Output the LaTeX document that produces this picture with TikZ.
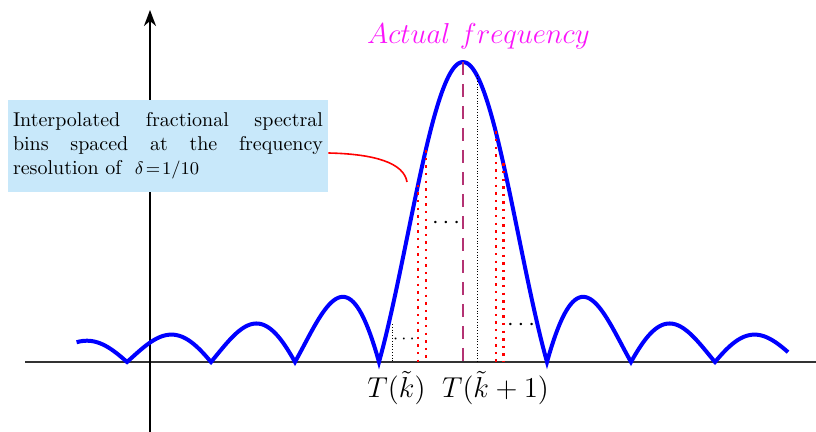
\documentclass[tikz,border=0pt]{standalone}
\usetikzlibrary{arrows.meta}
\definecolor{lobeblue}{RGB}{0,0,255}
\definecolor{peakpurple}{RGB}{180,50,115}
\definecolor{boxblue}{RGB}{200,232,250}
\definecolor{axisgray}{RGB}{50,50,50}
\definecolor{freqmagenta}{RGB}{250,20,250}
\begin{document}
\begin{tikzpicture}[x=0.5pt,y=-0.5pt,
  declare function={S(\x)=abs(sin(180*\x)/(pi*\x));},
  curve/.style={draw=lobeblue,line width=2pt},
  haxis/.style={draw=axisgray,line width=0.65pt},
  vaxis/.style={draw=black,line width=1pt,-{Stealth[length=8pt,width=6pt,inset=2.5pt]}},
  peakline/.style={draw=peakpurple,line width=1.3pt,dash pattern=on 6.5pt off 4.5pt},
  binline/.style={draw=red,line width=1.2pt,dash pattern=on 1.2pt off 2.6pt},
  thindot/.style={draw=black,line width=0.4pt,densely dotted},
  notebox/.style={fill=boxblue,text width=155pt,align=justify,inner xsep=2.5pt,inner ysep=6.3pt,font=\normalsize},
  lbl/.style={anchor=base,inner sep=0pt,font=\Large},
  dotsnode/.style={anchor=base,inner sep=0pt},
  callout/.style={draw=red,line width=0.8pt}
]
\useasboundingbox (0,0) rectangle (816,432);
% axes
\coordinate (hl) at (25,362);
\coordinate (hr) at (816,362);
\coordinate (vb) at (150,432);
\coordinate (vt) at (150,10);
\draw[haxis] (hl) -- (hr);
\draw[vaxis] (vb) -- (vt);
% spectrum
\draw[curve] plot[domain=-4.6:-4,samples=25] ({463+84*\x},{362-300*S(\x)})
  -- plot[domain=-4:-3,samples=40] ({463+84*\x},{362-300*S(\x)})
  -- plot[domain=-3:-2,samples=40] ({463+84*\x},{362-300*S(\x)})
  -- plot[domain=-2:-1,samples=40] ({463+84*\x},{362-300*S(\x)})
  -- plot[domain=-1:1,samples=100] ({463+84*\x},{362-300*S(\x)})
  -- plot[domain=1:2,samples=40] ({463+84*\x},{362-300*S(\x)})
  -- plot[domain=2:3,samples=40] ({463+84*\x},{362-300*S(\x)})
  -- plot[domain=3:3.87,samples=35] ({463+84*\x},{362-300*S(\x)});
% peak line
\coordinate (pk) at (463,62);
\coordinate (pb) at (463,362);
\draw[peakline] (pk) -- (pb);
% thin dotted
\coordinate (da) at (392,324);
\coordinate (dab) at (392,362);
\draw[thindot] (da) -- (dab);
\coordinate (db) at (477,{362-300*S(14/84)});
\coordinate (dbb) at (477,362);
\draw[thindot] (db) -- (dbb);
% red bins
\foreach \bx/\nm in {418/r1,425.7/r2,495.7/r3,503.3/r4}{
  \coordinate (\nm t) at (\bx,{362-300*S((\bx-463)/84)});
  \coordinate (\nm b) at (\bx,362);
  \draw[binline] (\nm t) -- (\nm b);
}
% dots
\node[dotsnode,font=\small] (dA) at (404,343.5) {$\cdots$};
\node[dotsnode,font=\large] (dB) at (446,229) {$\cdots$};
\node[dotsnode,font=\large] (dC) at (521,331) {$\cdots$};
% labels
\node[lbl] (tk) at (396.5,398) {$T(\tilde{k})$};
\node[lbl] (tk1) at (495.5,398) {$T(\tilde{k}+1)$};
\node[lbl,text=freqmagenta] (af) at (478.5,43.3) {$Actual\ frequency$};
% note box
\node[notebox] (note) at (168,146) {Interpolated fractional spectral\linebreak bins spaced at the frequency\linebreak resolution of \ {\small$\delta\!=\!1/10$}};
\coordinate (tip) at (407,182);
\draw[callout] (note.east |- 0,153) .. controls (375,154) and (404,163) .. (tip);
\end{tikzpicture}
\end{document}
